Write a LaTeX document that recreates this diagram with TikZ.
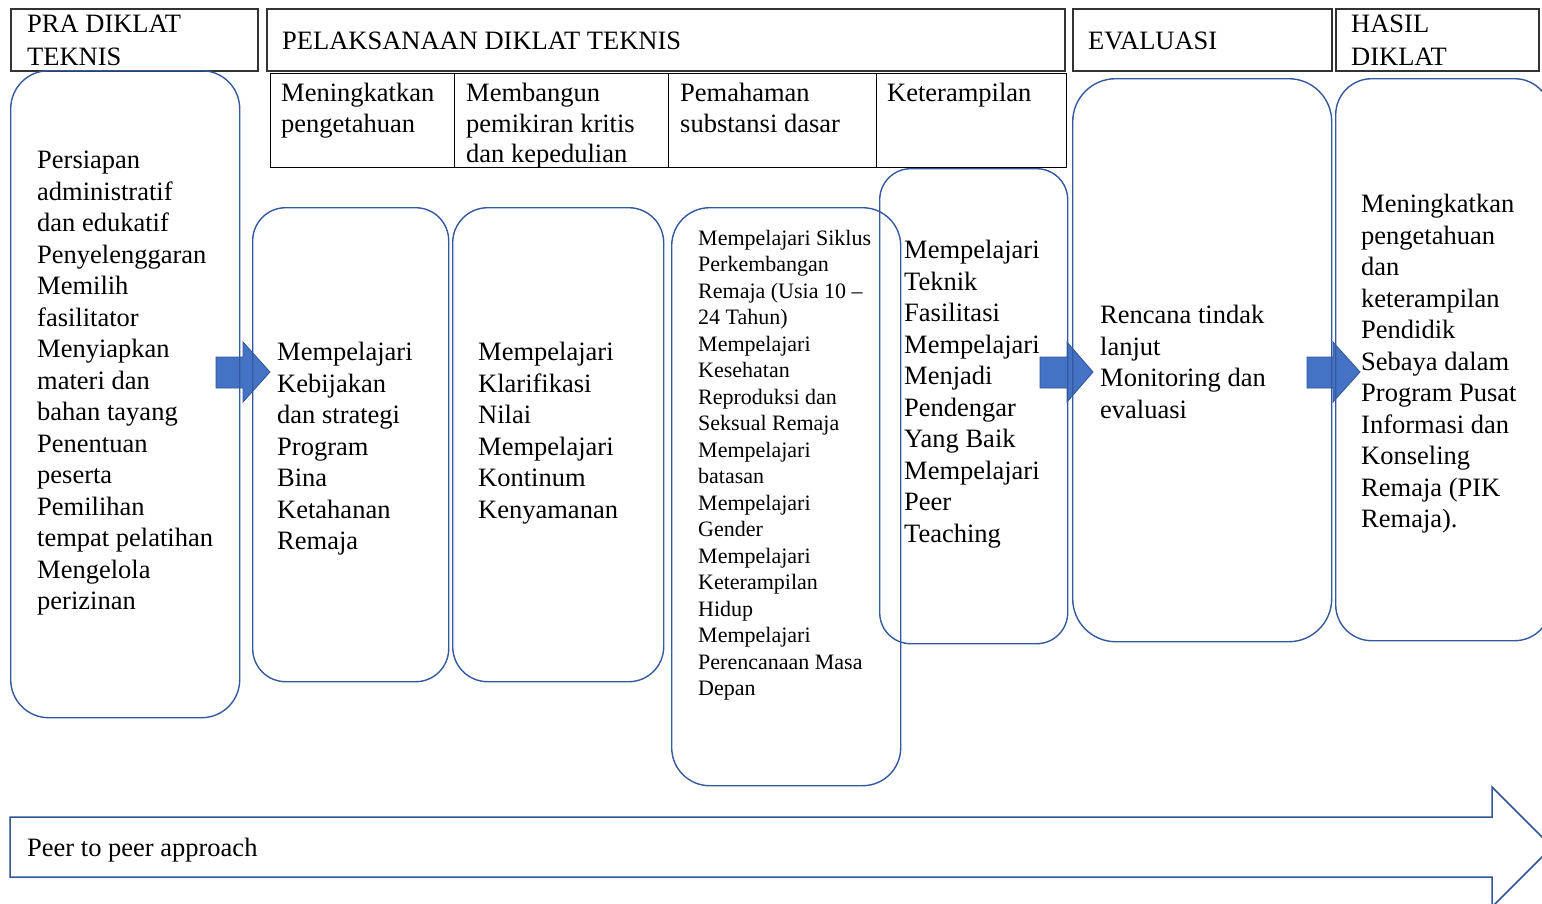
\documentclass[tikz,border=0pt]{standalone}
\usepackage{fontspec}
\setmainfont{Liberation Serif}
\usepackage{xcolor}
\usepackage{tikz}
\definecolor{stageblue}{RGB}{52,89,158}
\definecolor{flowblue}{RGB}{68,114,196}
\definecolor{flowedge}{RGB}{47,85,151}

\newcommand{\bodyfont}{\fontsize{26.5}{31.5}\selectfont}
\newcommand{\headfont}{\fontsize{26.5}{33}\selectfont}
\newcommand{\cellfont}{\fontsize{26.5}{30.5}\selectfont}
\newcommand{\smallbody}{\fontsize{22}{26.5}\selectfont}

\begin{document}
\begin{tikzpicture}[x=1pt, y=-1pt,
  hdr/.style={draw=black!80, line width=1.5pt, inner sep=0pt, anchor=north west},
  cell/.style={draw=black, line width=1.2pt, inner sep=0pt, anchor=north west},
  stage/.style={draw=stageblue, line width=1.4pt, inner sep=0pt, anchor=north west, rounded corners=38pt},
  txt/.style={align=left, inner sep=0pt, anchor=north west, font=\bodyfont},
  flow/.style={fill=flowblue, draw=flowedge, line width=0.8pt, line join=miter}]
\useasboundingbox (0,0) rectangle (1542,903);

% arrows between the stages
\draw[flow] (216,357) -- (243,357) -- (243,342) -- (270,372) -- (243,402) -- (243,388) -- (216,388) -- cycle;
\draw[flow] (1040,357) -- (1067,357) -- (1067,342) -- (1093,372) -- (1067,402) -- (1067,388) -- (1040,388) -- cycle;
\draw[flow] (1307,357) -- (1333,357) -- (1333,342) -- (1360,372) -- (1333,402) -- (1333,388) -- (1307,388) -- cycle;

% headers
\node[hdr, minimum width=247pt, minimum height=62pt] (pra) at (10,8) {};
\node[hdr, minimum width=798pt, minimum height=62pt] (pelaksanaan) at (266,8) {};
\node[hdr, minimum width=259pt, minimum height=62pt] (evaluasi) at (1072,8) {};
\node[hdr, minimum width=203pt, minimum height=62pt] (hasil) at (1335,8) {};
\node[txt, font=\headfont] (prat) at (27,15) {PRA DIKLAT\\TEKNIS};
\node[txt, anchor=west] (pelaksanaant) at (282,41) {PELAKSANAAN DIKLAT TEKNIS};
\node[txt, anchor=west] (evaluasit) at (1088,41) {EVALUASI};
\node[txt, font=\headfont] (hasilt) at (1351,15) {HASIL\\DIKLAT};

% table of aims
\node[cell, minimum width=184pt, minimum height=94pt] (aim1) at (270,73) {};
\node[cell, minimum width=214pt, minimum height=94pt] (aim2) at (454,73) {};
\node[cell, minimum width=208pt, minimum height=94pt] (aim3) at (668,73) {};
\node[cell, minimum width=190pt, minimum height=94pt] (aim4) at (876,73) {};
\node[txt, font=\cellfont] (aim1t) at (281,83) {Meningkatkan\\pengetahuan};
\node[txt, font=\cellfont] (aim2t) at (466,83) {Membangun\\pemikiran kritis\\dan kepedulian};
\node[txt, font=\cellfont] (aim3t) at (680,83) {Pemahaman\\substansi dasar};
\node[txt, font=\cellfont] (aim4t) at (887,83) {Keterampilan};

% stage boxes
\node[stage, minimum width=229pt, minimum height=647pt] (persiapan) at (10,70) {};
\node[stage, minimum width=196pt, minimum height=474pt, rounded corners=33pt] (kebijakan) at (252,207) {};
\node[stage, minimum width=211pt, minimum height=474pt, rounded corners=35pt] (nilai) at (452,207) {};
\node[stage, minimum width=229pt, minimum height=578pt] (materi) at (671,207) {};
\node[stage, minimum width=188pt, minimum height=475pt, rounded corners=31pt] (teknik) at (879,168) {};
\node[stage, minimum width=259pt, minimum height=563pt, rounded corners=43pt] (rtl) at (1072,78) {};
\node[stage, minimum width=215pt, minimum height=562pt, rounded corners=36pt] (hasilbox) at (1335,78) {};

\node[txt] (persiapant) at (37,151) {Persiapan\\administratif\\dan edukatif\\Penyelenggaran\\Memilih\\fasilitator\\Menyiapkan\\materi dan\\bahan tayang\\Penentuan\\peserta\\Pemilihan\\tempat pelatihan\\Mengelola\\perizinan};
\node[txt] (kebijakant) at (277,342) {Mempelajari\\Kebijakan\\dan strategi\\Program\\Bina\\Ketahanan\\Remaja};
\node[txt] (nilait) at (478,342) {Mempelajari\\Klarifikasi\\Nilai\\Mempelajari\\Kontinum\\Kenyamanan};
\node[txt, font=\smallbody] (materit) at (698,230) {Mempelajari Siklus\\Perkembangan\\Remaja (Usia 10 --\\24 Tahun)\\Mempelajari\\Kesehatan\\Reproduksi dan\\Seksual Remaja\\Mempelajari\\batasan\\Mempelajari\\Gender\\Mempelajari\\Keterampilan\\Hidup\\Mempelajari\\Perencanaan Masa\\Depan};
\node[txt] (teknikt) at (904,240) {Mempelajari\\Teknik\\Fasilitasi\\Mempelajari\\Menjadi\\Pendengar\\Yang Baik\\Mempelajari\\Peer\\Teaching};
\node[txt] (rtlt) at (1100,305) {Rencana tindak\\lanjut\\Monitoring dan\\evaluasi};
\node[txt] (hasilboxt) at (1361,194) {Meningkatkan\\pengetahuan\\dan\\keterampilan\\Pendidik\\Sebaya dalam\\Program Pusat\\Informasi dan\\Konseling\\Remaja (PIK\\Remaja).};

% approach arrow
\draw[draw=flowedge, line width=1.5pt, line join=miter] (10,817) -- (1492,817) -- (1492,787) -- (1552,847) -- (1492,907) -- (1492,877) -- (10,877) -- cycle;
\node[txt, anchor=west] (approach) at (27,850) {Peer to peer approach};
\end{tikzpicture}
\end{document}
